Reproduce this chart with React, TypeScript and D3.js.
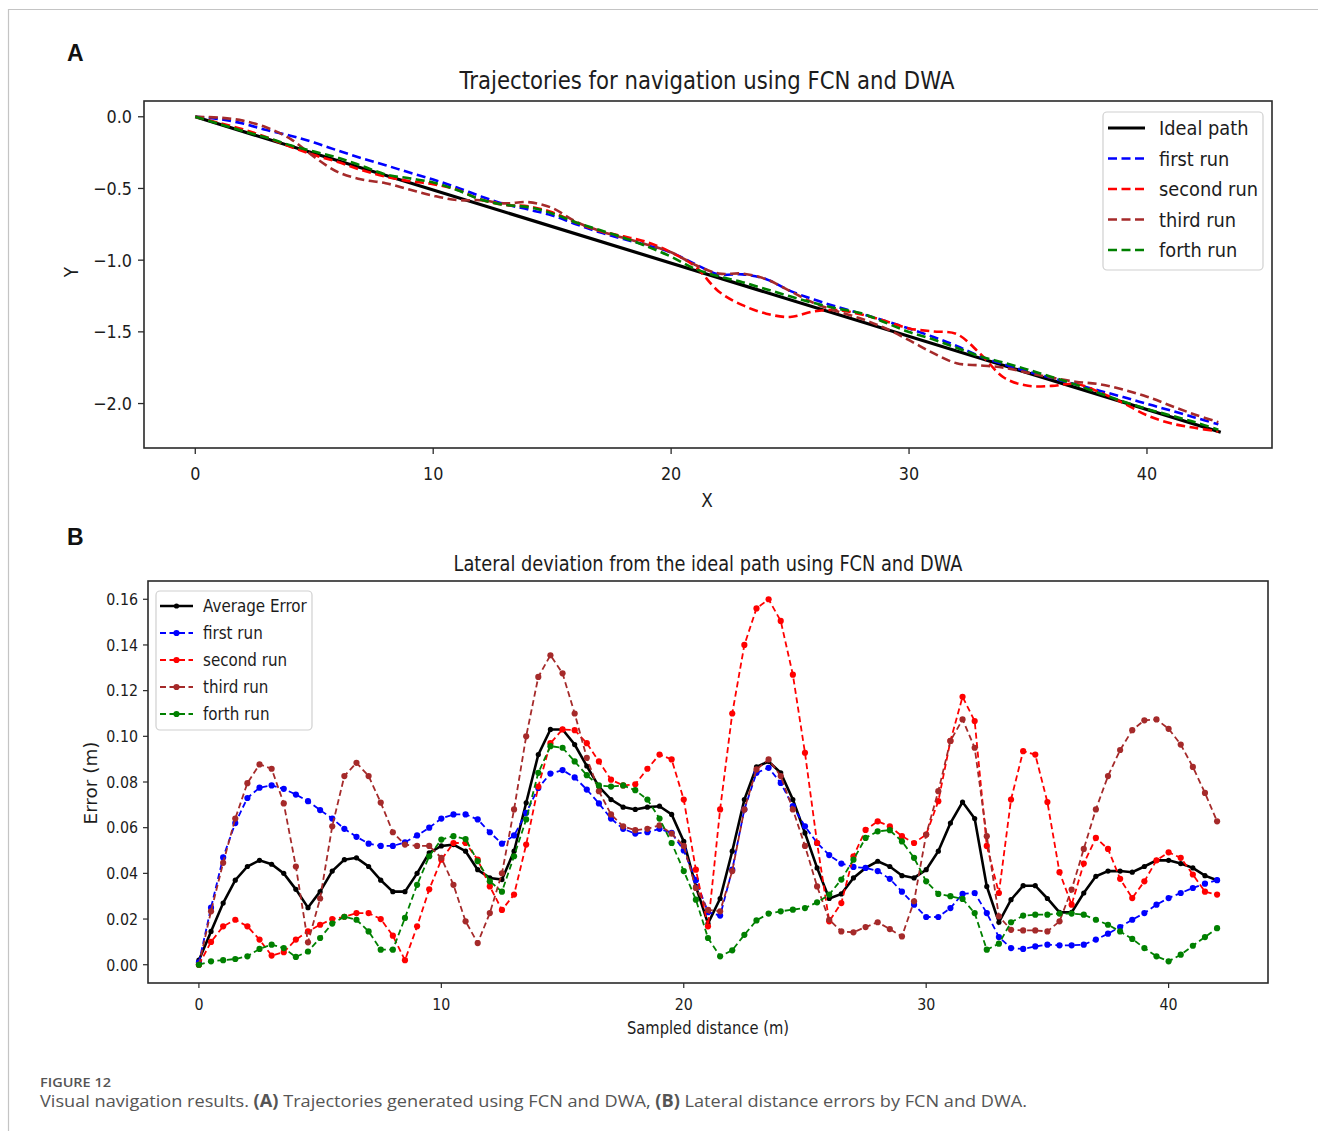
import React from 'react';
import * as d3 from 'd3';

// ---------- Panel A data ----------
const trajX = [0,1,2,3,4,5,6,7,8,9,10,11,12,13,14,15,16,17,18,19,20,21,22,23,24,25,26,27,28,29,30,31,32,33,34,35,36,37,38,39,40,41,42,43];
const idealX = [0, 43.1];
const idealY = [0, -2.2];
const firstRunY = [0,-0.016,-0.047,-0.093,-0.132,-0.180,-0.236,-0.289,-0.338,-0.389,-0.438,-0.493,-0.555,-0.609,-0.647,-0.688,-0.749,-0.806,-0.853,-0.896,-0.946,-1.027,-1.099,-1.099,-1.133,-1.214,-1.275,-1.327,-1.374,-1.424,-1.477,-1.534,-1.598,-1.672,-1.727,-1.778,-1.822,-1.866,-1.910,-1.955,-2.002,-2.049,-2.097,-2.145];
const secondRunY = [0,-0.043,-0.087,-0.143,-0.209,-0.267,-0.316,-0.372,-0.418,-0.449,-0.470,-0.509,-0.577,-0.614,-0.625,-0.666,-0.737,-0.796,-0.834,-0.875,-0.946,-1.042,-1.218,-1.314,-1.373,-1.396,-1.357,-1.348,-1.379,-1.424,-1.476,-1.497,-1.515,-1.654,-1.820,-1.876,-1.877,-1.863,-1.920,-1.996,-2.082,-2.138,-2.169,-2.195];
const thirdRunY = [0,-0.006,-0.027,-0.075,-0.154,-0.280,-0.386,-0.437,-0.463,-0.507,-0.550,-0.581,-0.582,-0.604,-0.595,-0.636,-0.732,-0.796,-0.844,-0.892,-0.945,-1.032,-1.093,-1.094,-1.133,-1.216,-1.299,-1.358,-1.409,-1.475,-1.558,-1.647,-1.719,-1.734,-1.750,-1.786,-1.819,-1.848,-1.865,-1.903,-1.952,-2.015,-2.076,-2.130];
const forthRunY = [0,-0.049,-0.099,-0.145,-0.199,-0.243,-0.286,-0.342,-0.402,-0.429,-0.458,-0.511,-0.577,-0.614,-0.630,-0.674,-0.737,-0.790,-0.843,-0.905,-0.976,-1.060,-1.113,-1.154,-1.203,-1.252,-1.299,-1.338,-1.371,-1.435,-1.501,-1.552,-1.611,-1.672,-1.715,-1.764,-1.815,-1.868,-1.928,-1.985,-2.038,-2.083,-2.129,-2.183];
const aXTicks = [0, 10, 20, 30, 40];
const aYTicks = [0, -0.5, -1.0, -1.5, -2.0];
const aYTickLabels = ['0.0', '\u22120.5', '\u22121.0', '\u22121.5', '\u22122.0'];
const aLegend = ['Ideal path', 'first run', 'second run', 'third run', 'forth run'];

// ---------- Panel B data ----------
const dist = [0,0.5,1,1.5,2,2.5,3,3.5,4,4.5,5,5.5,6,6.5,7,7.5,8,8.5,9,9.5,10,10.5,11,11.5,12,12.5,13,13.5,14,14.5,15,15.5,16,16.5,17,17.5,18,18.5,19,19.5,20,20.5,21,21.5,22,22.5,23,23.5,24,24.5,25,25.5,26,26.5,27,27.5,28,28.5,29,29.5,30,30.5,31,31.5,32,32.5,33,33.5,34,34.5,35,35.5,36,36.5,37,37.5,38,38.5,39,39.5,40,40.5,41,41.5,42];
const avgErr = [0.002,0.0146,0.027,0.037,0.043,0.0457,0.044,0.040,0.033,0.025,0.032,0.041,0.046,0.0468,0.043,0.037,0.032,0.032,0.040,0.049,0.052,0.0526,0.0497,0.0416,0.038,0.0373,0.0497,0.0709,0.092,0.103,0.103,0.0964,0.087,0.078,0.0723,0.069,0.068,0.069,0.0694,0.0658,0.054,0.0343,0.018,0.029,0.0497,0.0723,0.0866,0.089,0.084,0.0723,0.0577,0.0424,0.029,0.031,0.038,0.0424,0.0453,0.043,0.039,0.038,0.0416,0.0497,0.062,0.0712,0.064,0.0343,0.0186,0.0285,0.0346,0.0346,0.029,0.0229,0.0229,0.0314,0.0387,0.041,0.041,0.0405,0.043,0.0457,0.0457,0.0443,0.0424,0.039,0.037];
const firstErr = [0.001,0.025,0.047,0.062,0.073,0.0775,0.0785,0.077,0.0745,0.0716,0.0677,0.064,0.0595,0.056,0.053,0.052,0.052,0.0536,0.0566,0.060,0.064,0.0658,0.0658,0.0636,0.058,0.053,0.0566,0.0665,0.0774,0.0837,0.0852,0.082,0.0767,0.0706,0.064,0.0595,0.0574,0.058,0.0595,0.0577,0.050,0.037,0.023,0.0215,0.0416,0.068,0.084,0.0862,0.0796,0.0694,0.0606,0.0533,0.048,0.0443,0.0428,0.0424,0.041,0.0376,0.032,0.0263,0.0209,0.0209,0.0248,0.031,0.0314,0.0226,0.0121,0.0073,0.0069,0.008,0.0088,0.0085,0.0085,0.0088,0.011,0.0136,0.0165,0.0197,0.0226,0.0263,0.0292,0.0314,0.0336,0.0355,0.037];
const secondErr = [0,0.010,0.0168,0.0197,0.0168,0.011,0.004,0.0055,0.011,0.0146,0.0175,0.020,0.021,0.0226,0.0226,0.020,0.0127,0.002,0.0168,0.033,0.046,0.0533,0.0533,0.046,0.0343,0.024,0.0307,0.0526,0.078,0.097,0.103,0.1027,0.097,0.089,0.081,0.0785,0.079,0.0858,0.092,0.0899,0.0723,0.0416,0.0168,0.068,0.110,0.140,0.156,0.160,0.1505,0.127,0.0928,0.0533,0.019,0.027,0.0475,0.059,0.0628,0.0606,0.0563,0.0533,0.057,0.0716,0.098,0.1173,0.1067,0.052,0.0314,0.0723,0.0935,0.092,0.0712,0.0405,0.0263,0.0443,0.0555,0.0507,0.0376,0.0292,0.0365,0.0457,0.0492,0.0468,0.0395,0.032,0.0307];
const thirdErr = [0,0.0234,0.0446,0.064,0.0795,0.0877,0.0858,0.0706,0.043,0.0098,0.029,0.0606,0.0826,0.0884,0.0826,0.071,0.058,0.0526,0.052,0.052,0.0468,0.035,0.019,0.0095,0.0226,0.040,0.068,0.100,0.126,0.1355,0.1276,0.110,0.0906,0.076,0.0658,0.0606,0.0589,0.0595,0.061,0.0574,0.052,0.0336,0.024,0.0234,0.041,0.068,0.0855,0.0899,0.0826,0.068,0.052,0.0343,0.0197,0.0146,0.0142,0.0165,0.0186,0.0156,0.0124,0.0278,0.057,0.076,0.098,0.1074,0.095,0.0563,0.0212,0.0153,0.015,0.015,0.0146,0.019,0.0329,0.0507,0.068,0.0826,0.094,0.1027,0.107,0.1074,0.1033,0.0964,0.0866,0.0752,0.0628];
const forthErr = [0,0.0015,0.002,0.0025,0.0037,0.0069,0.0088,0.0073,0.0034,0.0058,0.0117,0.018,0.021,0.0197,0.0146,0.0066,0.0066,0.0205,0.035,0.0475,0.0548,0.0563,0.055,0.0453,0.0365,0.032,0.0475,0.0636,0.084,0.0957,0.095,0.089,0.083,0.0785,0.078,0.0785,0.0764,0.0723,0.064,0.0533,0.041,0.0285,0.0117,0.0037,0.0063,0.0131,0.0194,0.0224,0.0234,0.0241,0.0248,0.0273,0.0307,0.0373,0.046,0.0555,0.0584,0.0589,0.054,0.0468,0.0365,0.031,0.030,0.0288,0.0226,0.0066,0.0092,0.0186,0.0215,0.0219,0.0219,0.0224,0.0224,0.0219,0.0197,0.0175,0.0146,0.0113,0.0073,0.0037,0.0015,0.0044,0.0083,0.0121,0.016];
const bXTicks = [0, 10, 20, 30, 40];
const bYTicks = [0, 0.02, 0.04, 0.06, 0.08, 0.10, 0.12, 0.14, 0.16];
const bYTickLabels = ['0.00', '0.02', '0.04', '0.06', '0.08', '0.10', '0.12', '0.14', '0.16'];
const bLegend = ['Average Error', 'first run', 'second run', 'third run', 'forth run'];

const runColors = ['#0000ff', '#ff0000', '#a52a2a', '#008000'];
const FONT = '"DejaVu Sans", sans-serif';
const INK = '#1c1c1c';

function T({ x, y, size, children, anchor = 'start', sx = 0.89, weight = 'normal', fill = INK, rotate = 0, len, family = FONT }: any) {
  return (
    <text
      transform={`translate(${x},${y}) rotate(${rotate}) scale(${len ? 1 : sx},1)`}
      fontSize={size}
      fontFamily={family}
      fontWeight={weight}
      fill={fill}
      textAnchor={anchor}
      textLength={len}
      lengthAdjust={len ? 'spacingAndGlyphs' : undefined}
    >
      {children}
    </text>
  );
}

export default function App() {
  const A = { l: 144, r: 1272, t: 101, b: 448 };
  const B = { l: 148, r: 1268, t: 581, b: 983 };
  const xA = d3.scaleLinear().domain([-2.155, 45.255]).range([A.l, A.r]);
  const yA = d3.scaleLinear().domain([-2.31, 0.11]).range([A.b, A.t]);
  const xB = d3.scaleLinear().domain([-2.1, 44.1]).range([B.l, B.r]);
  const yB = d3.scaleLinear().domain([-0.008, 0.168]).range([B.b, B.t]);

  const lineA = d3.line<[number, number]>().x(d => xA(d[0])).y(d => yA(d[1])).curve(d3.curveCatmullRom.alpha(0.5));
  const lineStraight = d3.line<[number, number]>().x(d => xA(d[0])).y(d => yA(d[1]));
  const lineB = d3.line<[number, number]>().x(d => xB(d[0])).y(d => yB(d[1]));

  const runsA = [firstRunY, secondRunY, thirdRunY, forthRunY];
  const runsB = [firstErr, secondErr, thirdErr, forthErr];
  const idealPts = idealX.map((x, i) => [x, idealY[i]] as [number, number]);

  return (
    <svg width={1318} height={1131} style={{ position: 'absolute', left: 0, top: 0, background: '#fff' }}>
      <rect x={0} y={0} width={1318} height={1131} fill="#fff" />
      {/* page border */}
      <line x1={8} x2={1318} y1={9.5} y2={9.5} stroke="#c4c4c4" strokeWidth={1.2} />
      <line x1={8.5} x2={8.5} y1={9} y2={1131} stroke="#c4c4c4" strokeWidth={1.2} />

      {/* ===== Panel A ===== */}
      <text x={67} y={61} fontSize={23} fontWeight="bold" fontFamily='"Liberation Sans", Arial, sans-serif' fill="#111">A</text>
      <T x={707} y={89} size={24} anchor="middle" len={495}>Trajectories for navigation using FCN and DWA</T>
      <clipPath id="clipA"><rect x={A.l} y={A.t} width={A.r - A.l} height={A.b - A.t} /></clipPath>
      <g clipPath="url(#clipA)">
        <path d={lineStraight(idealPts) || ''} fill="none" stroke="#000" strokeWidth={3.2} />
        {runsA.map((ys, k) => (
          <path key={k} d={lineA(trajX.map((x, i) => [x, ys[i]] as [number, number])) || ''} fill="none" stroke={runColors[k]} strokeWidth={2.6} strokeDasharray="9,4.5" />
        ))}
      </g>
      <rect x={A.l} y={A.t} width={A.r - A.l} height={A.b - A.t} fill="none" stroke="#2a2a2a" strokeWidth={1.6} />
      {aXTicks.map(t => (
        <g key={t}>
          <line x1={xA(t)} x2={xA(t)} y1={A.b} y2={A.b + 6} stroke="#2a2a2a" strokeWidth={1.3} />
          <T x={xA(t)} y={480} size={18} anchor="middle">{String(t)}</T>
        </g>
      ))}
      {aYTicks.map((t, i) => (
        <g key={t}>
          <line x1={A.l - 6} x2={A.l} y1={yA(t)} y2={yA(t)} stroke="#2a2a2a" strokeWidth={1.3} />
          <T x={132} y={yA(t) + 6.5} size={18} anchor="end">{aYTickLabels[i]}</T>
        </g>
      ))}
      <T x={707} y={507} size={19} anchor="middle">X</T>
      <T x={78} y={272} size={19} anchor="middle" rotate={-90}>Y</T>
      {/* legend A */}
      <rect x={1103} y={112} width={160} height={158} rx={4} fill="#fff" fillOpacity={0.85} stroke="#d0d0d0" strokeWidth={1.2} />
      {aLegend.map((lab, i) => {
        const cy = 128 + i * 30.5;
        return (
          <g key={lab}>
            <line x1={1108} x2={1145} y1={cy} y2={cy} stroke={i === 0 ? '#000' : runColors[i - 1]} strokeWidth={i === 0 ? 3.2 : 2.6} strokeDasharray={i === 0 ? undefined : '9,4.5'} />
            <T x={1159} y={cy + 7} size={20}>{lab}</T>
          </g>
        );
      })}

      {/* ===== Panel B ===== */}
      <text x={67} y={545} fontSize={23} fontWeight="bold" fontFamily='"Liberation Sans", Arial, sans-serif' fill="#111">B</text>
      <T x={708} y={571} size={21} anchor="middle" len={509}>Lateral deviation from the ideal path using FCN and DWA</T>
      <clipPath id="clipB"><rect x={B.l} y={B.t} width={B.r - B.l} height={B.b - B.t} /></clipPath>
      <g clipPath="url(#clipB)">
        <path d={lineB(dist.map((x, i) => [x, avgErr[i]] as [number, number])) || ''} fill="none" stroke="#000" strokeWidth={2.6} />
        {dist.map((x, i) => <circle key={'a' + i} cx={xB(x)} cy={yB(avgErr[i])} r={2.6} fill="#000" />)}
        {runsB.map((vals, k) => (
          <g key={k}>
            <path d={lineB(dist.map((x, i) => [x, vals[i]] as [number, number])) || ''} fill="none" stroke={runColors[k]} strokeWidth={1.8} strokeDasharray="6,3.5" />
            {dist.map((x, i) => <circle key={i} cx={xB(x)} cy={yB(vals[i])} r={3.1} fill={runColors[k]} />)}
          </g>
        ))}
      </g>
      <rect x={B.l} y={B.t} width={B.r - B.l} height={B.b - B.t} fill="none" stroke="#2a2a2a" strokeWidth={1.6} />
      {bXTicks.map(t => (
        <g key={t}>
          <line x1={xB(t)} x2={xB(t)} y1={B.b} y2={B.b + 5} stroke="#2a2a2a" strokeWidth={1.2} />
          <T x={xB(t)} y={1010} size={16} anchor="middle">{String(t)}</T>
        </g>
      ))}
      {bYTicks.map((t, i) => (
        <g key={t}>
          <line x1={B.l - 5} x2={B.l} y1={yB(t)} y2={yB(t)} stroke="#2a2a2a" strokeWidth={1.2} />
          <T x={138} y={yB(t) + 5.8} size={16} anchor="end">{bYTickLabels[i]}</T>
        </g>
      ))}
      <T x={708} y={1034} size={17} anchor="middle" len={162}>Sampled distance (m)</T>
      <T x={97} y={783} size={17} anchor="middle" rotate={-90} len={83}>Error (m)</T>
      {/* legend B */}
      <rect x={156} y={591} width={156} height={139} rx={4} fill="#fff" fillOpacity={0.85} stroke="#d0d0d0" strokeWidth={1.2} />
      {bLegend.map((lab, i) => {
        const cy = 606 + i * 27;
        const col = i === 0 ? '#000' : runColors[i - 1];
        return (
          <g key={lab}>
            <line x1={160} x2={193} y1={cy} y2={cy} stroke={col} strokeWidth={i === 0 ? 2.6 : 1.8} strokeDasharray={i === 0 ? undefined : '6,3.5'} />
            <circle cx={176.5} cy={cy} r={i === 0 ? 2.6 : 3.1} fill={col} />
            <T x={203} y={cy + 6} size={17}>{lab}</T>
          </g>
        );
      })}

      {/* ===== Caption ===== */}
      <T x={40} y={1087} size={13} weight="600" fill="#555" len={71} family='"Open Sans", "Noto Sans", sans-serif'>FIGURE 12</T>
      <text x={40} y={1107} fontSize={17} fill="#555" fontFamily='"Open Sans", "Noto Sans", sans-serif' textLength={987} lengthAdjust="spacingAndGlyphs">
        Visual navigation results. <tspan fontWeight="bold">(A)</tspan> Trajectories generated using FCN and DWA, <tspan fontWeight="bold">(B)</tspan> Lateral distance errors by FCN and DWA.
      </text>
    </svg>
  );
}
